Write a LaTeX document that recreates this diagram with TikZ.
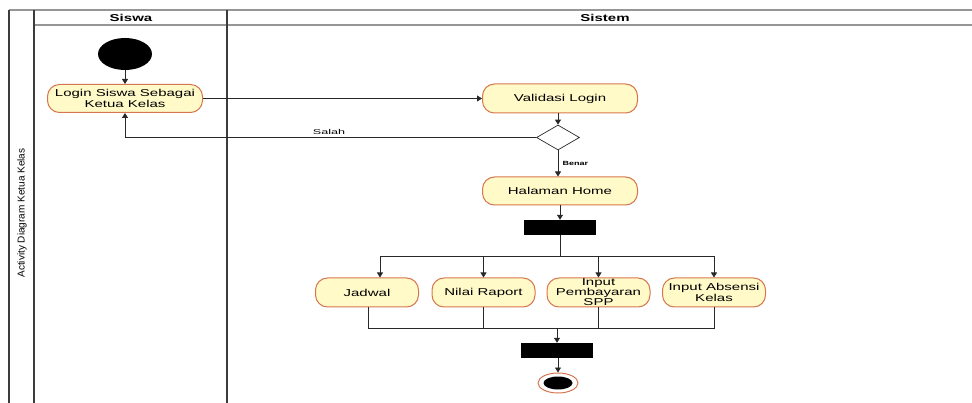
\documentclass[tikz,border=0pt]{standalone}
\usepackage{fontspec}
\setmainfont{Liberation Sans}
\newfontfamily\wide[FakeStretch=1.5]{Liberation Sans}
\newfontfamily\wider[FakeStretch=1.8]{Liberation Sans}
\usetikzlibrary{shapes.geometric,arrows.meta}

\definecolor{actfill}{RGB}{255,250,200}
\definecolor{actline}{RGB}{214,118,78}
\definecolor{flow}{RGB}{40,40,40}
\definecolor{frame}{RGB}{60,60,60}
\definecolor{headline}{RGB}{150,150,150}

\tikzset{
  activity/.style={rectangle, rounded corners=12pt, draw=actline, fill=actfill,
    line width=1pt, minimum width=155pt, minimum height=28pt, inner sep=1pt,
    align=center, font=\wide\fontsize{10}{11}\selectfont},
  smallact/.style={activity, minimum width=103pt, minimum height=29pt},
  bar/.style={rectangle, fill=black, draw=none, minimum width=72pt, minimum height=15pt, inner sep=0pt},
  startdot/.style={ellipse, fill=black, minimum width=54pt, minimum height=32pt, inner sep=0pt},
  choice/.style={diamond, draw=flow, fill=white, line width=0.7pt, minimum width=43pt, minimum height=25pt, inner sep=0pt},
  flowline/.style={draw=flow, line width=0.8pt},
  arrow/.style={flowline, -{Triangle[length=5pt,width=6pt]}},
  lane/.style={draw=frame, line width=1.4pt},
  header/.style={draw=headline, line width=1.2pt},
  lanetitle/.style={font=\wide\bfseries\fontsize{10}{12}\selectfont}
}

\begin{document}
\begin{tikzpicture}[x=1pt, y=-1pt]
\useasboundingbox (0,0) rectangle (972,403);

% swimlane frame
\draw[header] (9,10) -- (972,10);
\draw[header] (34,25) -- (972,25);
\draw[lane] (9,10) -- (9,403);
\draw[lane] (34,10) -- (34,403);
\draw[lane] (227,10) -- (227,403);
\node[lanetitle] (siswa) at (131,17.5) {Siswa};
\node[lanetitle] (sistem) at (605,17.5) {Sistem};
\node[rotate=90, font=\fontsize{10}{12}\selectfont] (pool) at (22,213) {Activity Diagram Ketua Kelas};

% activities
\node[startdot] (start) at (125,54) {};
\node[activity] (login) at (125,98.5) {Login Siswa Sebagai\\Ketua Kelas};
\node[activity, minimum height=29pt] (valid) at (560,98.5) {Validasi Login};
\node[choice] (dec) at (558,137.5) {};
\node[activity] (home) at (560,191) {Halaman Home};
\node[bar] (fork) at (560,227.5) {};
\node[smallact] (jadwal) at (367,292.5) {Jadwal};
\node[smallact] (nilai) at (483.5,292.5) {Nilai Raport};
\node[smallact, font=\wide\fontsize{10}{10}\selectfont] (spp) at (598.5,292.5) {Input\\Pembayaran\\SPP};
\node[smallact] (absen) at (714,292.5) {Input Absensi\\Kelas};
\node[bar] (join) at (557,350.5) {};
\node[ellipse, draw=actline, fill=white, line width=1pt, minimum width=40pt, minimum height=20pt, inner sep=0pt] (end) at (558,383) {};
\node[ellipse, fill=black, minimum width=29pt, minimum height=13pt, inner sep=0pt] (enddot) at (end) {};

% flow
\draw[arrow] (start) -- (login);
\draw[arrow] (login.east) -- (valid.west);
\draw[arrow] (valid.south -| dec.north) -- (dec.north);
\draw[arrow] (dec.west) -| (login.south);
\node[font=\wider\fontsize{7}{8}\selectfont] (salah) at (329,132) {Salah};
\draw[arrow] (dec.south) -- node[right, font=\wide\bfseries\fontsize{6}{7}\selectfont, xshift=1pt] (benar) {Benar} (dec.south |- home.north);
\draw[arrow] (home.south -| fork.north) -- (fork.north);

% fork branches
\coordinate (splitL) at (380,256);
\coordinate (splitR) at (714,256);
\draw[flowline] (fork.south) -- (fork.south |- splitL);
\draw[flowline] (splitL) -- (splitR);
\draw[arrow] (splitL) -- (splitL |- jadwal.north);
\draw[arrow] (nilai.north |- splitL) -- (nilai.north);
\draw[arrow] (spp.north |- splitL) -- (spp.north);
\draw[arrow] (splitR) -- (absen.north);

% merge into join bar
\coordinate (mergeL) at (368,328);
\coordinate (mergeR) at (714,328);
\draw[flowline] (jadwal.south -| mergeL) -- (mergeL) -- (mergeR) -- (absen.south);
\draw[flowline] (nilai.south) -- (nilai.south |- mergeL);
\draw[flowline] (spp.south) -- (spp.south |- mergeL);
\draw[arrow] (join.north |- mergeL) -- (join.north);
\draw[arrow] (join.south -| end.north) -- (end.north);
\end{tikzpicture}
\end{document}
